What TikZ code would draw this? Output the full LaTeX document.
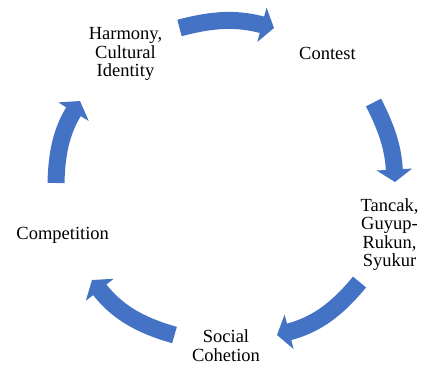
\documentclass[tikz,border=0pt]{standalone}
\usepackage{fontspec}
\setmainfont{Liberation Serif}
\usepackage{tikz}
\usetikzlibrary{arrows.meta}
\definecolor{cycblue}{RGB}{68,114,196}

\begin{document}
\begin{tikzpicture}[
        x=1pt, y=-1pt,
        cyc/.style={cycblue, line width=17pt,
            -{Triangle[length=12.5pt,width=35pt]}},
        every node/.style={color=black, align=center, inner sep=0pt,
            font=\fontsize{18.5}{18.5}\selectfont},
    ]
    \useasboundingbox (0,0) rectangle (422,365);
    % stages
    \node (harmony) at (125.5,54.4) {Harmony,\\Cultural\\Identity};
    \node (contest) at (327.5,53.8) {Contest};
    \node (tancak) at (389.5,234.7) {Tancak,\\Guyup-\\Rukun,\\Syukur};
    \node (social) at (226,345.7) {Social\\Cohetion};
    \node (competition) at (62.7,235.7) {Competition};

    % ends of the block arrows
    \coordinate (HC_1) at (179.5,28);
    \coordinate (HC_2) at (274,28);
    \coordinate (CT_1) at (373.5,102.5);
    \coordinate (CT_2) at (395,182);
    \coordinate (TS_1) at (359.5,282);
    \coordinate (TS_2) at (277,335);
    \coordinate (SC_1) at (174.5,335);
    \coordinate (SC_2) at (92,280);
    \coordinate (CH_1) at (56,183);
    \coordinate (CH_2) at (80,101);

    % cycle
    \draw[cyc] (HC_1) to[bend left=15] (HC_2);
    \draw[cyc] (CT_1) to[bend left=12] (CT_2);
    \draw[cyc] (TS_1) to[bend left=18] (TS_2);
    \draw[cyc] (SC_1) to[bend left=18] (SC_2);
    \draw[cyc] (CH_1) to[bend left=15] (CH_2);
\end{tikzpicture}
\end{document}
